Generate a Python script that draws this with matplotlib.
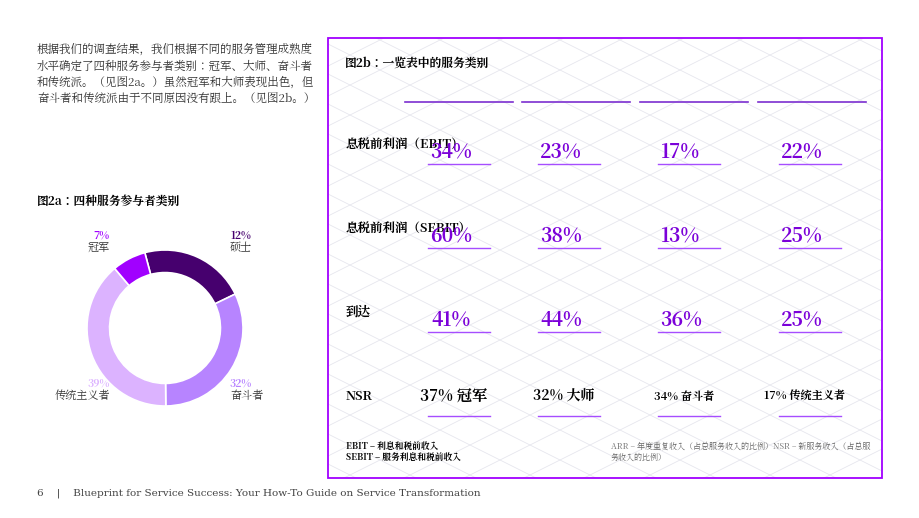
import matplotlib.pyplot as plt
from matplotlib import font_manager
import numpy as np

# 查找中文字体
cjk = [f.name for f in font_manager.fontManager.ttflist if 'CJK' in f.name]
cjk_sc = [n for n in cjk if 'SC' in n]
font_name = (cjk_sc or cjk or ['DejaVu Sans'])[0]
plt.rcParams['font.family'] = [font_name, 'DejaVu Sans']

# 图2a 数据
seg_names = ['硕士', '奋斗者', '传统主义者', '冠军']
seg_sizes = [22, 32, 39, 7]
seg_labels = ['12%', '32%', '39%', '7%']
seg_colors = ['#46006E', '#B784FF', '#DCB3FF', '#A100FF']

# 图2b 数据
row_names = ['息税前利润（EBIT）', '息税前利润（SEBIT）', '到达', 'NSR']
col_x = [459, 569, 689, 810]
values = [['34%', '23%', '17%', '22%'],
          ['60%', '38%', '13%', '25%'],
          ['41%', '44%', '36%', '25%']]
nsr = ['37% 冠军', '32% 大师', '34% 奋斗者', '17% 传统主义者']
nsr_size = [11, 10, 8, 8]

purple = '#A100FF'
fig = plt.figure(figsize=(9.2, 5.18), dpi=100)
ax = fig.add_axes([0, 0, 1, 1])
ax.set_xlim(0, 920)
ax.set_ylim(518, 0)
ax.axis('off')

# 左侧文字
intro = ['根据我们的调查结果，我们根据不同的服务管理成熟度',
         '水平确定了四种服务参与者类别：冠军、大师、奋斗者',
         '和传统派。（见图2a。）虽然冠军和大师表现出色，但',
         '奋斗者和传统派由于不同原因没有跟上。（见图2b。）']
for i, line in enumerate(intro):
    ax.text(37, 50 + i * 16.5, line, fontsize=8.3, color='#333333', va='center')
ax.text(37, 201, '图2a：四种服务参与者类别', fontsize=8.5, fontweight='bold', va='center')

# 背景菱形网格
for k in np.arange(-600, 1500, 60):
    xs = np.array([328, 882])
    ax.plot(xs, (xs - k) * 0.5, color='#E6E6EE', lw=0.6, zorder=0)
    ax.plot(xs, (k - xs) * 0.5 + 500, color='#E6E6EE', lw=0.6, zorder=0)
ax.add_patch(plt.Rectangle((328, 38), 554, 440, fill=False, ec=purple, lw=1.3, zorder=3))
ax.add_patch(plt.Rectangle((-10, -10), 338, 540, fc='white', ec='none', zorder=1))
ax.add_patch(plt.Rectangle((882, -10), 50, 540, fc='white', ec='none', zorder=1))
ax.add_patch(plt.Rectangle((328, -10), 560, 48, fc='white', ec='none', zorder=1))
ax.add_patch(plt.Rectangle((328, 478), 560, 50, fc='white', ec='none', zorder=1))

ax.text(345, 63, '图2b：一览表中的服务类别', fontsize=8.5, fontweight='bold', va='center', zorder=4)
for x0 in [405, 522, 640, 758]:
    ax.plot([x0, x0 + 108], [102, 102], color='#7B2FD0', lw=1.2, zorder=4)

for r, name in enumerate(row_names):
    y = 144 + r * 84
    ax.text(346, y, name, fontsize=9, fontweight='bold', va='center', zorder=4)
    for c, cx in enumerate(col_x):
        if r < 3:
            ax.text(cx - 8, y + 8, values[r][c], fontsize=14, fontweight='bold',
                    color='#7B00D9', ha='center', va='center', zorder=4)
        else:
            ax.text(cx - 5, y + 1, nsr[c], fontsize=nsr_size[c], fontweight='bold',
                    ha='center', va='center', zorder=4)
        ax.plot([cx - 31, cx + 31], [y + 20, y + 20], color='#A64DFF', lw=1, zorder=4)

ax.text(346, 452, 'EBIT – 利息和税前收入\nSEBIT – 服务利息和税前收入', fontsize=6.3,
        fontweight='bold', va='center', linespacing=1.4, zorder=4)
ax.text(611, 452, 'ARR – 年度重复收入（占总服务收入的比例）NSR – 新服务收入（占总服\n务收入的比例）',
        fontsize=5.8, color='#666666', va='center', linespacing=1.5, zorder=4)

ax.text(37, 493, '6    |    Blueprint for Service Success: Your How-To Guide on Service Transformation',
        fontsize=7.5, color='#444444', family='serif', va='center')

# 环形图
pax = fig.add_axes([(165 - 80) / 920, 1 - (328 + 80) / 518, 160 / 920, 160 / 518])
pax.pie(seg_sizes, colors=seg_colors, startangle=105, counterclock=False,
        wedgeprops=dict(width=22 / 78, edgecolor='white', linewidth=1.2), radius=78 / 80)
pax.set_xlim(-1, 1)
pax.set_ylim(-1, 1)
pax.set_aspect('equal')
label_pos = [(230, 236, 'left'), (230, 384, 'left'), (110, 384, 'right'), (110, 236, 'right')]
for (lx, ly, ha), lab, nm, col in zip(label_pos, seg_labels, seg_names, seg_colors):
    ax.text(lx, ly, lab, fontsize=7.5, fontweight='bold', color=col, ha=ha, va='center')
    ax.text(lx, ly + 12, nm, fontsize=8, color='#333333', ha=ha, va='center')

fig.savefig('out.png', dpi=100)
